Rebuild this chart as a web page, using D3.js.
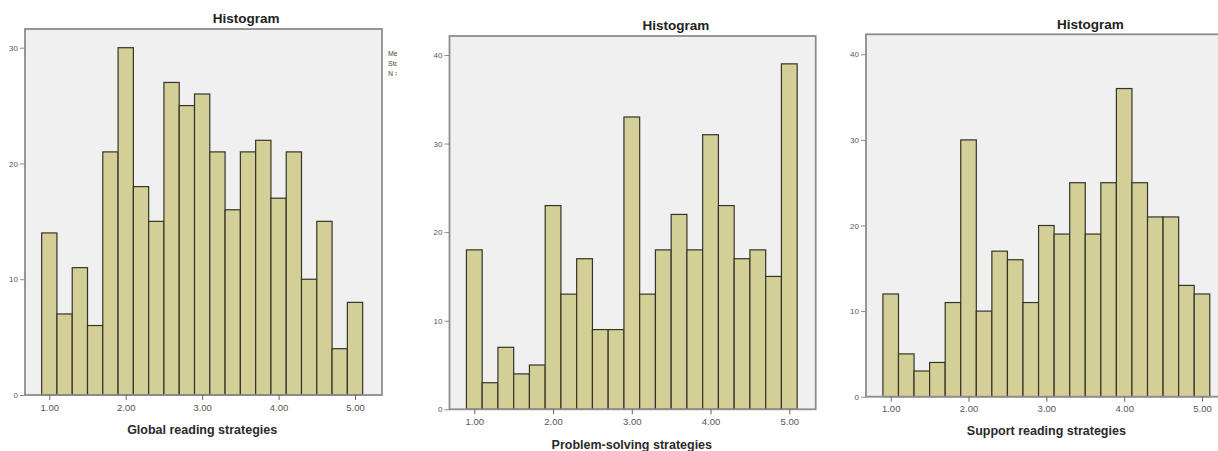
<!DOCTYPE html>
<html>
<head>
<meta charset="utf-8">
<script src="https://cdn.jsdelivr.net/npm/d3@7"></script>
<style>
  body { margin: 0; background: #fff; }
  svg { display: block; font-family: "Liberation Sans", Arial, sans-serif; }
</style>
</head>
<body>
<svg id="chart" width="1218" height="451"></svg>
<script>
// bin lower edges (width 0.2)
const binStarts = [0.9, 1.1, 1.3, 1.5, 1.7, 1.9, 2.1, 2.3, 2.5, 2.7, 2.9, 3.1, 3.3, 3.5, 3.7, 3.9, 4.1, 4.3, 4.5, 4.7, 4.9];
const binWidth = 0.2;

const globalCounts  = [14, 7, 11, 6, 21, 30, 18, 15, 27, 25, 26, 21, 16, 21, 22, 17, 21, 10, 15, 4, 8];
const problemCounts = [18, 3, 7, 4, 5, 23, 13, 17, 9, 9, 33, 13, 18, 22, 18, 31, 23, 17, 18, 15, 39];
const supportCounts = [12, 5, 3, 4, 11, 30, 10, 17, 16, 11, 20, 19, 25, 19, 25, 36, 25, 21, 21, 13, 12];

const xTicks = [1, 2, 3, 4, 5];
const yTicksA = [0, 10, 20, 30];
const yTicksB = [0, 10, 20, 30, 40];

const titles = ["Histogram", "Histogram", "Histogram"];
const xLabels = ["Global reading strategies", "Problem-solving strategies", "Support reading strategies"];
const legendLines = ["Mean =", "Std. Dev. =", "N ="];

// layout of each panel (pixel frame + where ticks 1.00/5.00 and the top tick fall)
const panels = [
  { counts: globalCounts,  yTicks: yTicksA, title: titles[0], label: xLabels[0],
    left: 25, right: 382, top: 29, bottom: 395, x1: 49.3, x5: 355, yTop: 47.7,
    titleY: 23, labelY: 434, tickY: 411, legend: true },
  { counts: problemCounts, yTicks: yTicksB, title: titles[1], label: xLabels[1],
    left: 449.5, right: 815.7, top: 36, bottom: 409.3, x1: 474.3, x5: 789.3, yTop: 55,
    titleY: 30, labelY: 449, tickY: 426 },
  { counts: supportCounts, yTicks: yTicksB, title: titles[2], label: xLabels[2],
    left: 866, right: 1240, top: 34.3, bottom: 396.7, x1: 890.7, x5: 1202, yTop: 54.3,
    titleY: 29, labelY: 435, tickY: 412 }
];

const svg = d3.select('#chart');

panels.forEach((p, pi) => {
  const x = d3.scaleLinear().domain([1, 5]).range([p.x1, p.x5]);
  const yMax = d3.max(p.yTicks);
  const y = d3.scaleLinear().domain([0, yMax]).range([p.bottom, p.yTop]);

  const g = svg.append('g').attr('class', 'panel');

  // plot background
  g.append('rect')
    .attr('x', p.left).attr('y', p.top)
    .attr('width', p.right - p.left).attr('height', p.bottom - p.top)
    .attr('fill', '#f0f0f0');

  // bars
  g.selectAll('rect.bar')
    .data(p.counts)
    .join('rect')
    .attr('class', 'bar')
    .attr('x', (d, i) => x(binStarts[i]))
    .attr('width', (d, i) => x(binStarts[i] + binWidth) - x(binStarts[i]))
    .attr('y', d => y(d))
    .attr('height', d => y(0) - y(d))
    .attr('fill', '#d4cf97')
    .attr('stroke', '#35342a')
    .attr('stroke-width', 1.2);

  // frame
  g.append('rect')
    .attr('x', p.left).attr('y', p.top)
    .attr('width', p.right - p.left).attr('height', p.bottom - p.top)
    .attr('fill', 'none')
    .attr('stroke', '#8c8c8c')
    .attr('stroke-width', 1.8);

  // y axis
  const yAxis = d3.axisLeft(y).tickValues(p.yTicks).tickSize(5).tickPadding(2).tickFormat(d3.format('d'));
  const ya = g.append('g').attr('transform', `translate(${p.left},0)`).call(yAxis);
  ya.select('.domain').remove();
  ya.selectAll('line').attr('stroke', '#8c8c8c');
  ya.selectAll('text').attr('fill', '#555').style('font-size', '8px');

  // x axis
  const xAxis = d3.axisBottom(x).tickValues(xTicks).tickSize(5).tickPadding(4).tickFormat(d3.format('.2f'));
  const xa = g.append('g').attr('transform', `translate(0,${p.bottom})`).call(xAxis);
  xa.select('.domain').remove();
  xa.selectAll('line').attr('stroke', '#666');
  xa.selectAll('text').attr('fill', '#555').style('font-size', '9.5px');

  // title
  g.append('text')
    .attr('x', (p.x1 + p.x5) / 2 + 44).attr('y', p.titleY)
    .attr('text-anchor', 'middle')
    .style('font-size', '13.5px').style('font-weight', 'bold')
    .attr('fill', '#222')
    .text(p.title);

  // x label
  g.append('text')
    .attr('x', x(3)).attr('y', p.labelY)
    .attr('text-anchor', 'middle')
    .style('font-size', '12.5px').style('font-weight', 'bold')
    .attr('fill', '#2a2a2a')
    .text(p.label);

  // clipped legend text beside panel 1
  if (p.legend) {
    svg.append('clipPath').attr('id', 'legclip')
      .append('rect').attr('x', p.right + 5).attr('y', 40).attr('width', 10).attr('height', 40);
    g.append('g').attr('clip-path', 'url(#legclip)')
      .selectAll('text')
      .data(legendLines)
      .join('text')
      .attr('x', p.right + 6)
      .attr('y', (d, i) => 56 + i * 10)
      .style('font-size', '7px')
      .attr('fill', '#444')
      .text(d => d);
  }
});
</script>
</body>
</html>
